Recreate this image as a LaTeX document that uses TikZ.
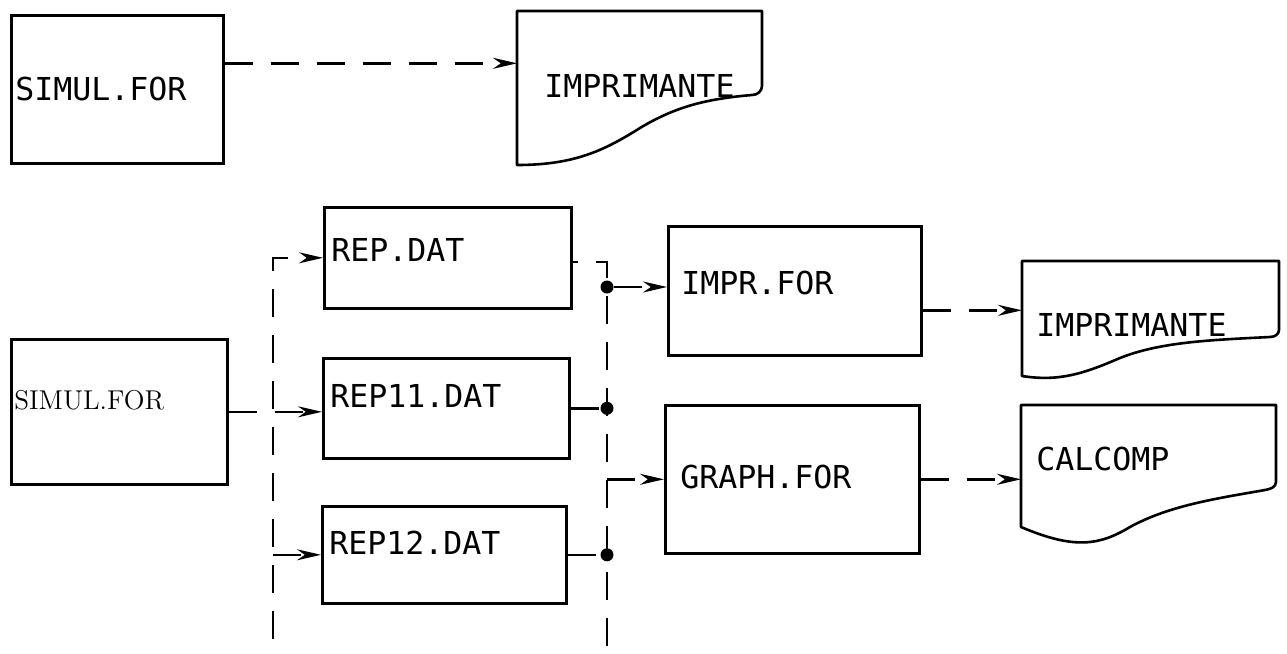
\documentclass[tikz,border=0pt]{standalone}
\usepackage{fontspec}
\newfontfamily\lpfont{DejaVu Sans Mono}
\usepackage{tikz}
\usetikzlibrary{positioning,arrows.meta,calc}

\begin{document}
\begin{tikzpicture}[
  x=0.5pt, y=-0.5pt, >={Stealth[length=12pt,width=5.5pt]},
  box/.style={draw,line width=1.3pt,anchor=north west,align=left,inner ysep=0pt,
    font=\lpfont\fontsize{15.8}{18}\selectfont},
  doc/.style={box,draw=none},
  edge/.style={line width=1.3pt,line join=round},
  dline/.style={line width=1.2pt,dash pattern=on 14pt off 9pt},
  flow/.style={dline,->},
  dot/.style={circle,fill,inner sep=0pt,minimum size=6.5pt}
]
\useasboundingbox (0,0) rectangle (1287,654);

\node[box,inner xsep=2pt,text width=102pt,text height=42.75pt,text depth=31.25pt] (simA) at (10,14) {SIMUL.FOR};
\node[doc,inner xsep=13pt,text width=96.5pt,text height=42.75pt,text depth=34.25pt] (prtA) at (517,11) {IMPRIMANTE};
\draw[edge] (517,11) -- (762,11) -- (762,86) to[out=-90,in=0] (752,95)
  .. controls (705,99) and (675,107) .. (640,128)
  .. controls (605,150) and (575,165) .. (517,165) -- cycle;

\node[box,inner xsep=1.5pt,text width=105pt,text height=35pt,text depth=37.5pt,
  font=\rmfamily\fontsize{13.6}{16}\selectfont] (simB) at (10,338) {SIMUL.FOR};
\node[box,inner xsep=3.5pt,text width=116.5pt,text height=27.25pt,text depth=23.25pt] (rep) at (323,206) {REP.DAT};
\node[box,inner xsep=3.5pt,text width=116pt,text height=24.75pt,text depth=25.25pt] (rep11) at (322,357) {REP11.DAT};
\node[box,inner xsep=3.5pt,text width=115pt,text height=24.25pt,text depth=24.25pt] (rep12) at (321,505) {REP12.DAT};
\node[box,inner xsep=6.5pt,text width=113.5pt,text height=34.25pt,text depth=30.25pt] (impr) at (667,225) {IMPR.FOR};
\node[box,inner xsep=7.5pt,text width=112pt,text height=41.75pt,text depth=32.25pt] (graph) at (664,404) {GRAPH.FOR};

\node[doc,inner xsep=6.5pt,text width=115.5pt,text height=37.25pt,text depth=21.25pt] (prtB) at (1022,261) {IMPRIMANTE};
\draw[edge] (1022,261) -- (1279,261) -- (1279,330) to[out=-90,in=0] (1270,337)
  .. controls (1210,340) and (1160,342) .. (1120,358)
  .. controls (1085,373) and (1060,382) .. (1022,376) -- cycle;
\node[doc,inner xsep=7pt,text width=113.5pt,text height=32.25pt,text depth=37.75pt] (plot) at (1021,405) {CALCOMP};
\draw[edge] (1021,405) -- (1276,405) -- (1276,482) to[out=-90,in=10] (1265,490)
  .. controls (1220,498) and (1170,505) .. (1130,527)
  .. controls (1100,545) and (1075,550) .. (1021,527) -- cycle;

\coordinate (lbus) at (273,654);
\coordinate (rbus) at (607,654);
\node[dot] (j1) at (607,287) {};
\node[dot] (j2) at (rbus |- rep11.east) {};
\node[dot] (j3) at (rbus |- rep12.east) {};

\draw[flow] ([yshift=13pt]simA.east) -- ([yshift=13pt]simA.east -| prtA.west);
\draw[flow] (simB.east) -- (simB.east -| rep11.west);
\draw[flow,dash phase=15.25pt] (lbus) |- (rep.west);
\draw[flow] (lbus |- rep12.west) -- (rep12.west);
\draw[dline,dash phase=11.5pt] ([yshift=-2pt]rep.east) -| (rbus);
\draw[dline] (rep11.east) -- (j2);
\draw[dline] (rep12.east) -- (j3);
\draw[flow] (j1) -- (j1 -| impr.west);
\draw[flow] (rbus |- graph.west) -- (graph.west);
\draw[flow] ([yshift=-9.75pt]impr.east) -- ([yshift=-9.75pt]impr.east -| prtB.west);
\draw[flow] (graph.east) -- (graph.east -| plot.west);
\end{tikzpicture}
\end{document}
